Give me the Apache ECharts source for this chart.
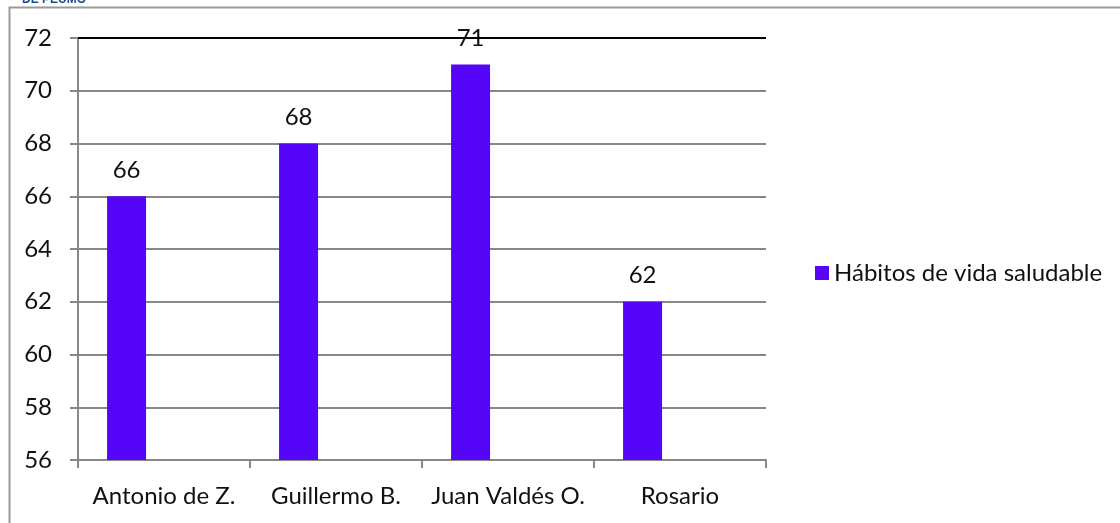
<!DOCTYPE html>
<html>
<head>
<meta charset="utf-8">
<script src="https://cdn.jsdelivr.net/npm/echarts@6/dist/echarts.min.js"></script>
<style>html,body{margin:0;padding:0;background:#fff}#c{width:1120px;height:523px}</style>
</head>
<body>
<div id="c"></div>
<script>
const categories = ['Antonio de Z.', 'Guillermo B.', 'Juan Valdés O.', 'Rosario'];
const seriesName = 'Hábitos de vida saludable';
const values = [66, 68, 71, 62];
const yMin = 56, yMax = 72, yStep = 2;

const font = 'Lato, "Open Sans", sans-serif';
const chart = echarts.init(document.getElementById('c'), null, {renderer: 'canvas'});
const empty = categories.map(() => '-');
chart.setOption({
  animation: false,
  textStyle: {fontFamily: font},
  grid: {left: 78, right: 354, top: 38, bottom: 63, containLabel: false},
  legend: {
    data: [seriesName],
    left: 810, top: 256,
    icon: 'rect', itemWidth: 14, itemHeight: 14, itemGap: 6,
    textStyle: {fontFamily: font, fontSize: 24, color: '#111'}
  },
  xAxis: {
    type: 'category', data: categories,
    axisLine: {lineStyle: {color: '#888', width: 2}},
    axisTick: {show: true, interval: 0, length: 8, lineStyle: {color: '#888', width: 2}},
    axisLabel: {interval: 0, fontFamily: font, fontSize: 24, color: '#111', margin: 24}
  },
  yAxis: {
    type: 'value', min: yMin, max: yMax, interval: yStep,
    axisLine: {show: true, lineStyle: {color: '#888', width: 2}},
    axisTick: {show: true, length: 8, lineStyle: {color: '#888', width: 2}},
    axisLabel: {fontFamily: font, fontSize: 24, color: '#111', margin: 26},
    splitLine: {lineStyle: {color: '#888', width: 2}}
  },
  graphic: [
    {type: 'rect', shape: {x: 9.5, y: 7.5, width: 1200, height: 600}, style: {fill: 'none', stroke: '#999', lineWidth: 2}, z: -1},
    {type: 'text', left: 22, top: -6, style: {text: 'DE PEUMO', font: 'bold 12px sans-serif', fill: '#1f4e8c'}}
  ],
  series: [
    {
      name: seriesName, type: 'bar', data: values, barWidth: 39, barGap: '-4%',
      itemStyle: {color: '#5506F8'},
      label: {show: true, position: 'top', distance: 14, fontFamily: font, fontSize: 24, color: '#111'},
      markLine: {
        silent: true, symbol: 'none', label: {show: false},
        lineStyle: {color: '#000', width: 2, type: 'solid'},
        data: [{yAxis: yMax}]
      },
      z: 2
    },
    {name: 'b', type: 'bar', data: empty, barWidth: 39},
    {name: 'c', type: 'bar', data: empty, barWidth: 39}
  ]
});
</script>
</body>
</html>
